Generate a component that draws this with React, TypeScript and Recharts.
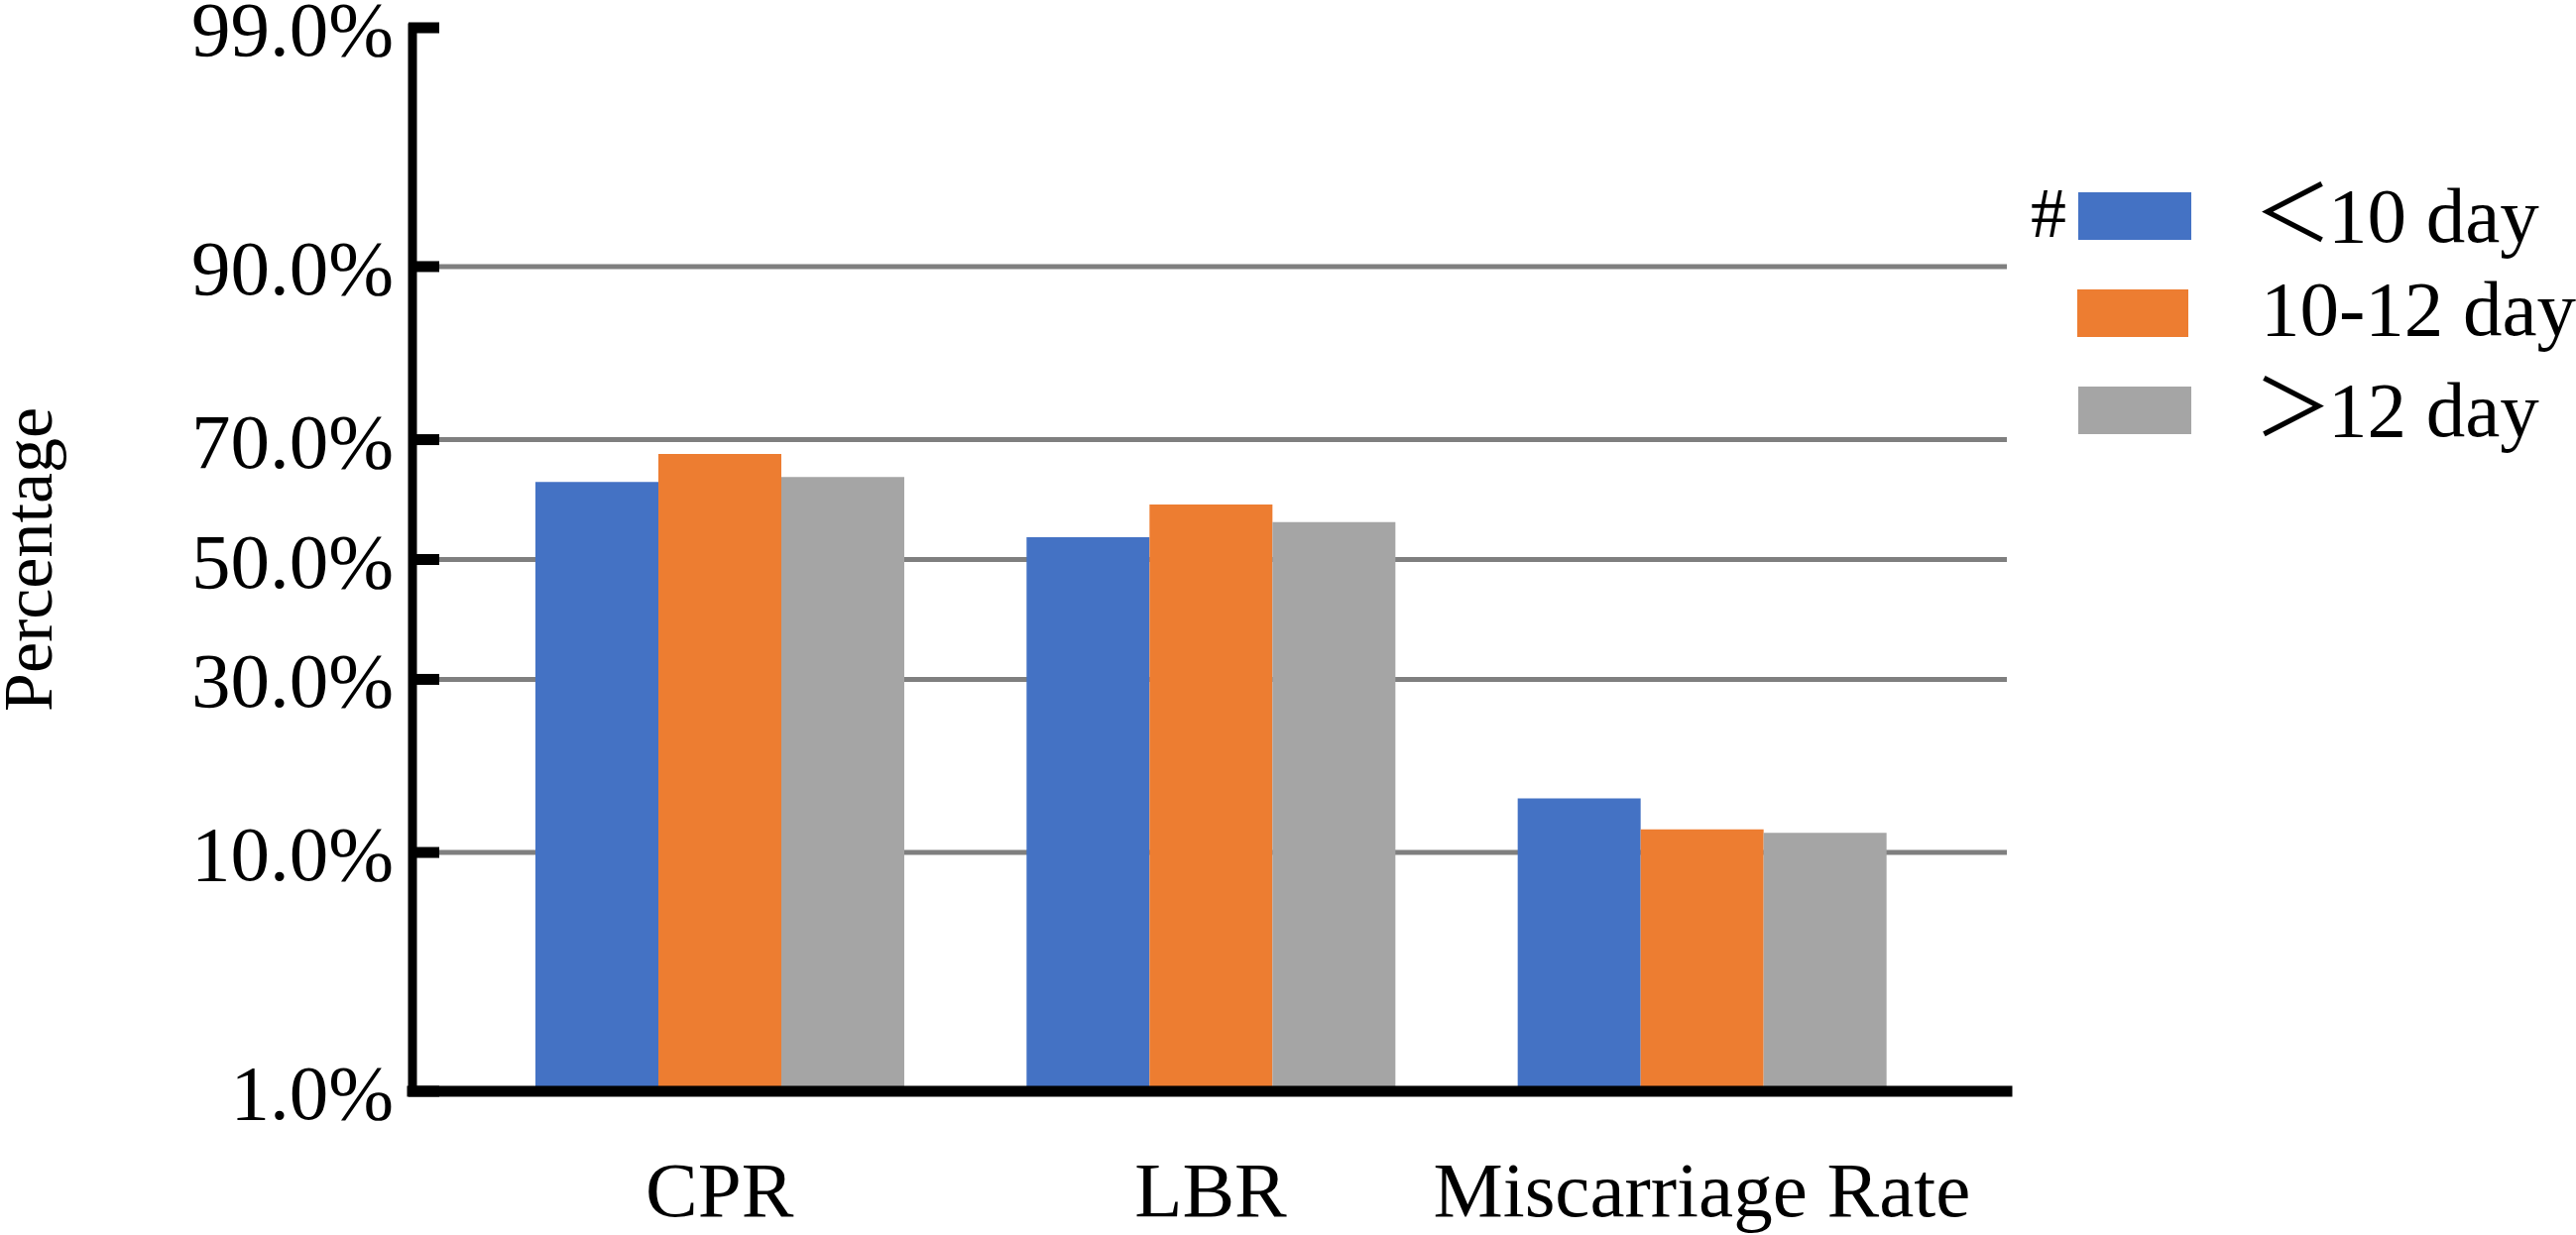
import React from "react"
import { BarChart, Bar, XAxis, YAxis, CartesianGrid, Legend } from "recharts"

const CATEGORIES = ["CPR", "LBR", "Miscarriage Rate"]
const SERIES_NAMES = ["＜10 day", "10-12 day", "＞12 day"]
const SERIES_MARKS = ["#", "", ""]
const COLORS = ["#4472C4", "#ED7D31", "#A5A5A5"]

// percentages
const UNDER_10 = [63.3, 53.9, 14.8]
const FROM_10_TO_12 = [67.8, 59.5, 11.9]
const OVER_12 = [64.1, 56.5, 11.6]

const Y_TICKS = [1, 10, 30, 50, 70, 90, 99]
const GRID_TICKS = [10, 30, 50, 70, 90]

const FONT = "Liberation Serif, Tinos, Times New Roman, serif"
const CJK = "Noto Sans CJK SC, Noto Sans CJK JP, sans-serif"

// inverse normal cdf (Acklam), the y axis is a probability scale
function probit(p: number): number {
  const a = [-39.69683028665376, 220.9460984245205, -275.9285104469687, 138.357751867269, -30.66479806614716, 2.506628277459239]
  const b = [-54.47609879822406, 161.5858368580409, -155.6989798598866, 66.80131188771972, -13.28068155288572]
  const c = [-0.007784894002430293, -0.3223964580411365, -2.400758277161838, -2.549732539343734, 4.374664141464968, 2.938163982698783]
  const d = [0.007784695709041462, 0.3224671290700398, 2.445134137142996, 3.754408661907416]
  const lo = 0.02425
  if (p < lo) {
    const q = Math.sqrt(-2 * Math.log(p))
    return (((((c[0] * q + c[1]) * q + c[2]) * q + c[3]) * q + c[4]) * q + c[5]) / ((((d[0] * q + d[1]) * q + d[2]) * q + d[3]) * q + 1)
  }
  if (p <= 1 - lo) {
    const q = p - 0.5
    const r = q * q
    return ((((((a[0] * r + a[1]) * r + a[2]) * r + a[3]) * r + a[4]) * r + a[5]) * q) / (((((b[0] * r + b[1]) * r + b[2]) * r + b[3]) * r + b[4]) * r + 1)
  }
  const q = Math.sqrt(-2 * Math.log(1 - p))
  return -(((((c[0] * q + c[1]) * q + c[2]) * q + c[3]) * q + c[4]) * q + c[5]) / ((((d[0] * q + d[1]) * q + d[2]) * q + d[3]) * q + 1)
}

// shift so the 1% floor sits at 0 and bars grow from the bottom
const toAxis = (pct: number) => probit(pct / 100) - probit(Y_TICKS[0] / 100)

const data = CATEGORIES.map((name, i) => ({
  name,
  s0: toAxis(UNDER_10[i]),
  s1: toAxis(FROM_10_TO_12[i]),
  s2: toAxis(OVER_12[i]),
}))

function YTick(props: any) {
  const { x, y, index } = props
  return (
    <g>
      <line x1={x - 4} x2={x + 27} y1={y} y2={y} stroke="#000" strokeWidth={11} />
      <text x={x - 19} y={y} dy="0.355em" textAnchor="end" fill="#000" fontSize={79} fontFamily={FONT}>
        {Y_TICKS[index].toFixed(1) + "%"}
      </text>
    </g>
  )
}

function YLabel(props: any) {
  const vb = props.viewBox || { x: 0, y: 0, width: 0, height: 0 }
  const x = vb.x + 52
  const y = vb.y + vb.height / 2
  return (
    <text x={x} y={y} transform={`rotate(-90 ${x} ${y})`} textAnchor="middle" fill="#000" fontSize={70} fontFamily={FONT}>
      Percentage
    </text>
  )
}

// the full-width brackets come from the CJK font, as in the original
function LegendText({ value }: { value: string }) {
  const first = value.charAt(0)
  if (first === "＜" || first === "＞") {
    return (
      <>
        <span style={{ fontFamily: CJK, marginLeft: -10, marginRight: -4 }}>{first}</span>
        {value.slice(1)}
      </>
    )
  }
  return <>{value}</>
}

function LegendBox(props: any) {
  const items = [...(props.payload || [])].sort(
    (a: any, b: any) => SERIES_NAMES.indexOf(a.value) - SERIES_NAMES.indexOf(b.value),
  )
  return (
    <div style={{ fontFamily: FONT }}>
      {items.map((item: any, i: number) => (
        <div key={item.value} style={{ display: "flex", alignItems: "center", height: 98 }}>
          <span style={{ width: 60, textAlign: "right", paddingRight: 6, boxSizing: "border-box", fontSize: 72, lineHeight: 1, position: "relative", top: -3 }}>
            {SERIES_MARKS[i]}
          </span>
          <span style={{ width: 114, height: 48, background: item.color, marginLeft: 6 }} />
          <span style={{ marginLeft: 73, fontSize: 79, lineHeight: 1, whiteSpace: "nowrap", color: "#000", position: "relative", top: -5 }}>
            <LegendText value={item.value} />
          </span>
        </div>
      ))}
    </div>
  )
}

export default function App() {
  return (
    <div style={{ position: "absolute", left: 0, top: 0, background: "#fff" }}>
      <BarChart
        width={2598}
        height={1246}
        data={data}
        margin={{ top: 28, right: 574, bottom: 0, left: 0 }}
        barCategoryGap={62}
        barGap={0}
      >
        <CartesianGrid vertical={false} stroke="#7f7f7f" strokeWidth={5} horizontalValues={GRID_TICKS.map(toAxis)} />
        <XAxis
          dataKey="name"
          interval={0}
          padding={{ left: 62, right: 60 }}
          height={145}
          tickLine={false}
          tickSize={0}
          tickMargin={70}
          axisLine={{ stroke: "#000", strokeWidth: 11, strokeLinecap: "square" }}
          tick={{ fill: "#000", fontSize: 79, fontFamily: FONT }}
        />
        <YAxis
          type="number"
          width={416}
          domain={[0, toAxis(Y_TICKS[Y_TICKS.length - 1])]}
          ticks={Y_TICKS.map(toAxis)}
          interval={0}
          tickLine={false}
          tickSize={0}
          tickMargin={0}
          axisLine={{ stroke: "#000", strokeWidth: 9, strokeLinecap: "square" }}
          tick={<YTick />}
          label={<YLabel />}
        />
        <Legend
          layout="horizontal"
          verticalAlign="middle"
          align="center"
          content={<LegendBox />}
          wrapperStyle={{ position: "absolute", left: 2030, top: 169, width: 568, height: 300 }}
        />
        {[0, 1, 2].map((k) => (
          <Bar key={k} dataKey={`s${k}`} name={SERIES_NAMES[k]} fill={COLORS[k]} isAnimationActive={false} />
        ))}
      </BarChart>
    </div>
  )
}
